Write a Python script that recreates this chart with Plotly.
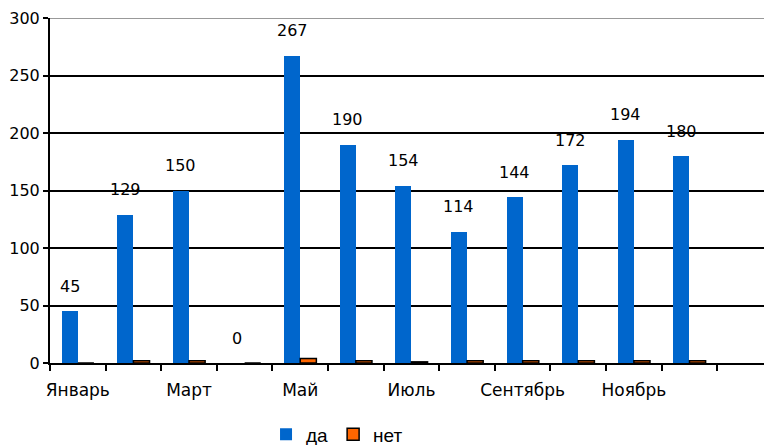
import plotly.graph_objects as go

months = ["Январь", "Февраль", "Март", "Апрель", "Май", "Июнь", "Июль",
          "Август", "Сентябрь", "Октябрь", "Ноябрь", "Декабрь"]
da = [45, 129, 150, 0, 267, 190, 154, 114, 144, 172, 194, 180]
net = [0, 2, 2, 0, 4, 2, 1, 2, 2, 2, 2, 2]
y_ticks = [0, 50, 100, 150, 200, 250, 300]

x = list(range(len(months)))
font_main = "DejaVu Sans, Verdana, sans-serif"

fig = go.Figure()
fig.add_trace(go.Bar(x=x, y=da, name="да", width=0.29, offset=-0.29,
                     marker=dict(color="#0066CC", line=dict(width=0))))
fig.add_trace(go.Bar(x=x, y=net, name="нет", width=0.29, offset=0.0,
                     marker=dict(color="#FF6600", line=dict(color="black", width=1.5))))

for xi, v in zip(x, da):
    fig.add_annotation(x=xi - 0.145, y=v, text=str(v), showarrow=False,
                       yshift=25, font=dict(size=16, color="black", family=font_main))

fig.update_layout(
    width=764, height=454,
    margin=dict(l=50, r=0, t=18, b=83),
    paper_bgcolor="white", plot_bgcolor="white",
    bargap=0, barmode="overlay",
    showlegend=True,
    legend=dict(orientation="h", x=0.402, xanchor="center", y=-0.152, yanchor="top",
                font=dict(size=19, family="Liberation Sans, Arial, sans-serif", color="black"),
                traceorder="normal"),
    font=dict(family=font_main, color="black"),
)
fig.update_xaxes(
    automargin=False,
    range=[-0.5, 12.34],
    tickvals=[0, 2, 4, 6, 8, 10],
    ticktext=[months[i] for i in [0, 2, 4, 6, 8, 10]],
    ticks="", showgrid=False, zeroline=False,
    showline=True, linecolor="black", linewidth=2,
    ticklabelstandoff=11,
    tickfont=dict(size=17, family=font_main, color="black"),
    minor=dict(tickvals=[i - 0.5 for i in range(14)], ticks="outside",
               ticklen=6, tickwidth=2, tickcolor="black", showgrid=False),
)
fig.update_yaxes(
    automargin=False,
    range=[0, 300], tickvals=y_ticks,
    showgrid=True, gridcolor="black", gridwidth=2,
    zeroline=False, showline=True, linecolor="black", linewidth=2,
    ticks="outside", ticklen=5, tickwidth=2, tickcolor="black",
    tickfont=dict(size=16, family=font_main, color="black"),
)
fig.add_shape(type="line", xref="paper", yref="y", x0=0, x1=1, y0=300, y1=300,
              line=dict(color="#999999", width=2))

fig.write_html(
    "out.html",
    config={"displayModeBar": False, "staticPlot": True},
    post_script=("document.documentElement.style.margin='0';"
                 "document.body.style.margin='0';"
                 "document.body.style.overflow='hidden';"
                 "document.documentElement.style.overflow='hidden';"),
)
